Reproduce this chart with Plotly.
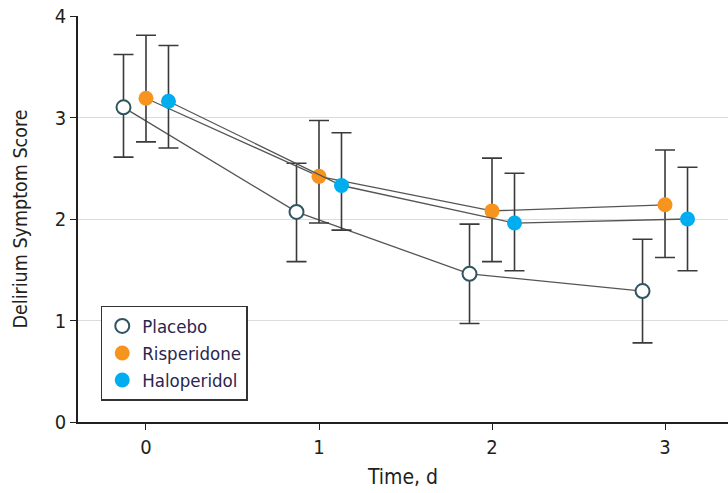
import plotly.graph_objects as go

days = [0, 1, 2, 3]
tick_labels = ["0", "1", "2", "3"]

groups = ["Placebo", "Risperidone", "Haloperidol"]
placebo_mean = [3.10, 2.07, 1.46, 1.29]
placebo_hi = [3.62, 2.55, 1.95, 1.80]
placebo_lo = [2.61, 1.58, 0.97, 0.78]

risperidone_mean = [3.19, 2.42, 2.08, 2.14]
risperidone_hi = [3.81, 2.97, 2.60, 2.68]
risperidone_lo = [2.76, 1.96, 1.58, 1.62]

haloperidol_mean = [3.16, 2.33, 1.96, 2.00]
haloperidol_hi = [3.71, 2.85, 2.45, 2.51]
haloperidol_lo = [2.70, 1.89, 1.49, 1.49]

series = [
    ("Placebo", placebo_mean, placebo_hi, placebo_lo, -0.13,
     dict(color="white", size=14, line=dict(color="#2e5560", width=2))),
    ("Risperidone", risperidone_mean, risperidone_hi, risperidone_lo, 0.0,
     dict(color="#f7941d", size=15, line=dict(width=0))),
    ("Haloperidol", haloperidol_mean, haloperidol_hi, haloperidol_lo, 0.13,
     dict(color="#00aeef", size=15, line=dict(width=0))),
]

font_family = "DejaVu Sans Condensed, Liberation Sans Narrow, Open Sans, sans-serif"
text_color = "#231f20"

fig = go.Figure()
for name, mean, hi, lo, off, marker in series:
    xs = [d + off for d in days]
    fig.add_trace(go.Scatter(
        x=xs, y=mean, mode="lines+markers", name=name, showlegend=False,
        line=dict(color="#555555", width=1.3),
        marker=marker,
        error_y=dict(type="data", symmetric=False,
                     array=[h - m for h, m in zip(hi, mean)],
                     arrayminus=[m - l for m, l in zip(mean, lo)],
                     color="#3a3a3a", thickness=1.6, width=10),
        cliponaxis=False,
    ))
for name, mean, hi, lo, off, marker in series:
    fig.add_trace(go.Scatter(x=[None], y=[None], mode="markers", name=name,
                             marker=marker, showlegend=True))

fig.update_layout(
    width=728, height=493,
    margin=dict(l=78, r=0, t=16, b=71),
    plot_bgcolor="white", paper_bgcolor="white",
    font=dict(family=font_family, size=20, color=text_color),
    xaxis=dict(range=[-0.393, 3.364], tickvals=days, ticktext=tick_labels,
               showgrid=False, zeroline=False, showline=True,
               linecolor=text_color, linewidth=1.5,
               ticks="outside", ticklen=6, tickwidth=1.3, tickcolor=text_color,
               tickfont=dict(size=20),
               title=dict(text="Time, d", font=dict(size=21), standoff=12)),
    yaxis=dict(range=[0, 4], tickvals=[0, 1, 2, 3, 4],
               showgrid=True, gridcolor="#dcdcdc", gridwidth=1,
               zeroline=False, showline=True,
               linecolor=text_color, linewidth=1.5,
               ticks="outside", ticklen=6, tickwidth=1.3, tickcolor=text_color,
               tickfont=dict(size=20),
               title=dict(text="Delirium Symptom Score", font=dict(size=19.5), standoff=22)),
    legend=dict(x=0.035, y=0.286, xanchor="left", yanchor="top",
                bordercolor="#333333", borderwidth=1.5, bgcolor="white",
                font=dict(size=18.5, color="#2a2550"),
                tracegroupgap=0, itemwidth=30),
)

fig.write_html("out.html")
